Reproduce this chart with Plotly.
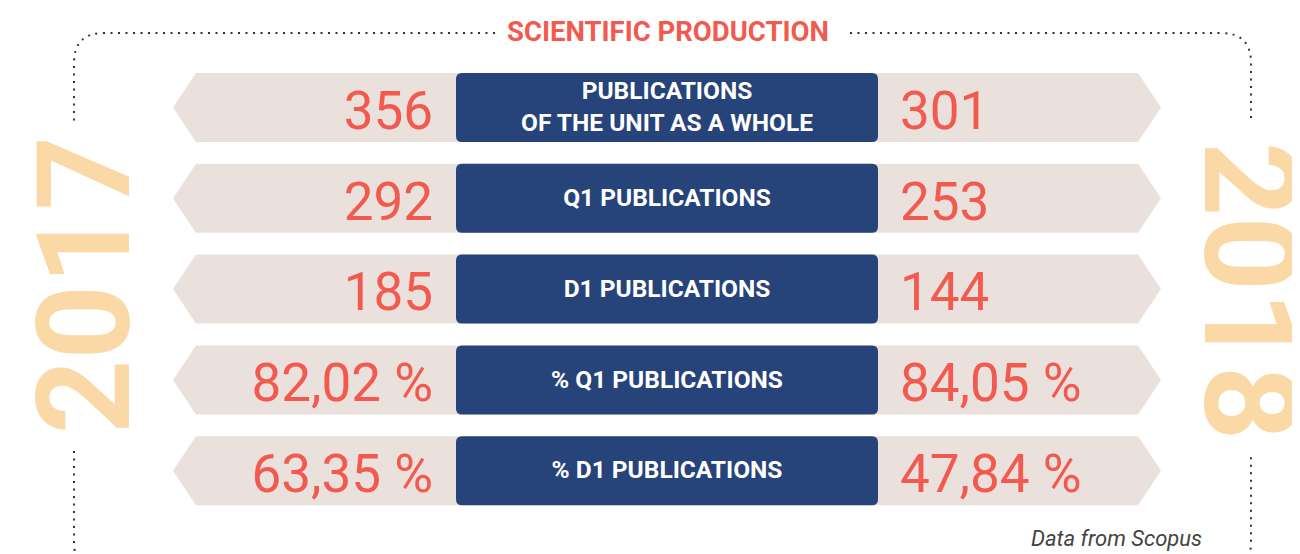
import plotly.graph_objects as go

# ---------------- data ----------------
categories = [
    "PUBLICATIONS<br>OF THE UNIT AS A WHOLE",
    "Q1 PUBLICATIONS",
    "D1 PUBLICATIONS",
    "% Q1 PUBLICATIONS",
    "% D1 PUBLICATIONS",
]
values_2017 = [356, 292, 185, 82.02, 63.35]
values_2018 = [301, 253, 144, 84.05, 47.84]
is_percent = [False, False, False, True, True]
year_left = "2017"
year_right = "2018"
title_text = "SCIENTIFIC PRODUCTION"
source_text = "Data from Scopus"

# ---------------- style ----------------
W, H = 1300, 554
OFF = 8  # page body margin compensation
BANNER = "#eae0dc"
BLUE = "#26437a"
RED = "#f25a4f"
YEAR = "#fad9a6"
DOTS = "#333333"

ROW0, STEP, HALF = 107.5, 90.8, 34.5
BAN_L, BAN_R, TIP = 196, 1138, 23
BOX_L, BOX_R, RAD = 456, 878, 6
VAL_FONT = "Roboto, sans-serif"


def fmt(v, pct):
    if pct:
        return f"{v:.2f}".replace(".", ",") + " %"
    return f"{v:.0f}"


def row_y(i):
    return ROW0 + STEP * i


shapes = []
for i in range(len(categories)):
    yc = row_y(i)
    t, b = yc - HALF, yc + HALF
    shapes.append(dict(
        type="path", xref="x", yref="y",
        path=(f"M {BAN_L} {t} L {BAN_R} {t} L {BAN_R + TIP} {yc} L {BAN_R} {b} "
              f"L {BAN_L} {b} L {BAN_L - TIP} {yc} Z"),
        fillcolor=BANNER, line=dict(width=0), layer="below"))
    r = RAD
    shapes.append(dict(
        type="path", xref="x", yref="y",
        path=(f"M {BOX_L + r} {t} L {BOX_R - r} {t} Q {BOX_R} {t} {BOX_R} {t + r} "
              f"L {BOX_R} {b - r} Q {BOX_R} {b} {BOX_R - r} {b} L {BOX_L + r} {b} "
              f"Q {BOX_L} {b} {BOX_L} {b - r} L {BOX_L} {t + r} Q {BOX_L} {t} {BOX_L + r} {t} Z"),
        fillcolor=BLUE, line=dict(width=0), layer="below"))

# dotted frame
FL, FR, FT, FB, CR = 74, 1251, 33, 572, 30
dot_line = dict(color=DOTS, width=2, dash="2px,5.5px")
frame_paths = [
    f"M 495 {FT} L {FL + CR} {FT} Q {FL} {FT} {FL} {FT + CR} L {FL} 123",
    f"M {FL} 451 L {FL} {FB - CR} Q {FL} {FB} {FL + CR} {FB} L {FR - CR} {FB} "
    f"Q {FR} {FB} {FR} {FB - CR} L {FR} 457",
    f"M 850 {FT} L {FR - CR} {FT} Q {FR} {FT} {FR} {FT + CR} L {FR} 123",
]
for p in frame_paths:
    shapes.append(dict(type="path", xref="x", yref="y", path=p, line=dot_line,
                       fillcolor="rgba(0,0,0,0)"))

fig = go.Figure()

ys = [row_y(i) + 8 for i in range(len(categories))]
fig.add_trace(go.Scatter(
    x=[433] * len(categories), y=ys, mode="text",
    text=[fmt(v, p) for v, p in zip(values_2017, is_percent)],
    textposition="middle left",
    textfont=dict(family=VAL_FONT, size=53, color=RED),
    hoverinfo="skip", showlegend=False))
fig.add_trace(go.Scatter(
    x=[900] * len(categories), y=ys, mode="text",
    text=[fmt(v, p) for v, p in zip(values_2018, is_percent)],
    textposition="middle right",
    textfont=dict(family=VAL_FONT, size=53, color=RED),
    hoverinfo="skip", showlegend=False))
fig.add_trace(go.Scatter(
    x=[(BOX_L + BOX_R) / 2] * len(categories),
    y=[row_y(i) + 1.5 for i in range(len(categories))], mode="text",
    text=[f"<b>{c}</b>" for c in categories],
    textposition="middle center",
    textfont=dict(family="Roboto, sans-serif", size=24.5, color="white"),
    hoverinfo="skip", showlegend=False))

annotations = [
    dict(x=668, y=31, text=f"<b>{title_text}</b>", showarrow=False,
         font=dict(family="Roboto, sans-serif", size=27.5, color=RED),
         xanchor="center", yanchor="middle"),
    dict(x=84, y=285, text=f"<b>{year_left}</b>", showarrow=False, textangle=-90,
         font=dict(family="Roboto, sans-serif", size=130, color=YEAR),
         xanchor="center", yanchor="middle"),
    dict(x=1250, y=291, text=f"<b>{year_right}</b>", showarrow=False, textangle=90,
         font=dict(family="Roboto, sans-serif", size=130, color=YEAR),
         xanchor="center", yanchor="middle"),
    dict(x=1204, y=538, text=f"<i>{source_text}</i>", showarrow=False,
         font=dict(family="Roboto, sans-serif", size=22, color="#444444"),
         xanchor="right", yanchor="middle"),
]

fig.update_layout(
    width=W, height=H, autosize=False,
    margin=dict(l=0, r=0, t=0, b=0),
    paper_bgcolor="white", plot_bgcolor="white",
    xaxis=dict(range=[OFF, W + OFF], visible=False, fixedrange=True),
    yaxis=dict(range=[H + OFF, OFF], visible=False, fixedrange=True),
    shapes=shapes, annotations=annotations, showlegend=False,
)

fig.write_html("out.html", config={"displayModeBar": False})
